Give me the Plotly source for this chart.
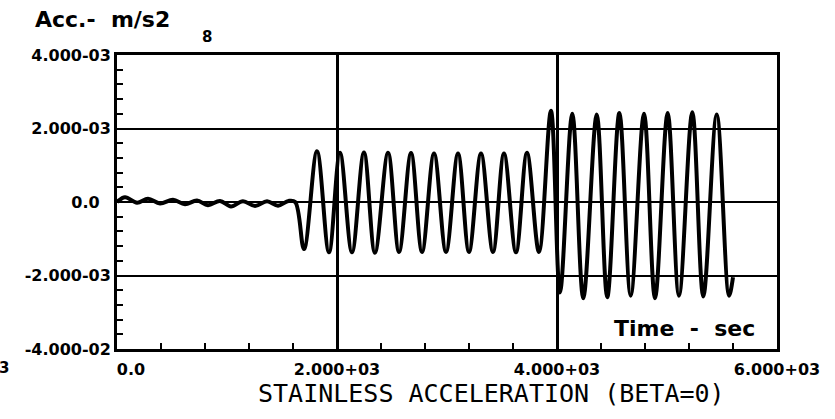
import plotly.graph_objects as go

# ---- data ----
time_s = [
    0, 73, 182, 282, 391, 509, 618, 727, 827, 936, 1036, 1145, 1255, 1364, 1464, 1560, 1620,
    1700, 1818, 1927, 2027, 2136, 2245, 2345, 2464, 2564, 2673, 2773, 2882, 2991, 3100,
    3200, 3309, 3418, 3518, 3627, 3727, 3836,
    3945, 4027, 4139, 4239, 4361, 4457, 4567, 4670, 4791, 4891, 5006, 5109, 5230, 5330,
    5452, 5564, 5600,
]
accel = [
    0.0, 0.0013, -0.0002, 0.0009, -0.0004, 0.0006, -0.0006, 0.0004, -0.0009, 0.0003, -0.0012,
    0.0002, -0.0011, 0.0002, -0.0010, 0.0003, 0.0,
    -0.0128, 0.0138, -0.0137, 0.0134, -0.0137, 0.0135, -0.0138, 0.0134, -0.0136, 0.0133,
    -0.0136, 0.0132, -0.0136, 0.0132, -0.0136, 0.0132, -0.0136, 0.0132, -0.0137, 0.0134,
    -0.0136,
    0.0248, -0.0246, 0.0240, -0.0262, 0.0238, -0.0259, 0.0242, -0.0255, 0.0240, -0.0262,
    0.0242, -0.0255, 0.0244, -0.0257, 0.0238, -0.0255, -0.0205,
]

x_tickvals = [0, 2000, 4000, 6000]
x_ticktext = ["\u00a0\u00a0\u00a0\u00a0\u00a00.0", "2.000+03", "4.000+03", "6.000+03"]
y_tickvals = [-0.04, -0.02, 0.0, 0.02, 0.04]
y_ticktext = ["-4.000-02", "-2.000-03", "0.0\u00a0\u00a0", "2.000-03", "4.000-03"]

title_text = "STAINLESS ACCELERATION (BETA=0)"
y_label = "Acc.-\u00a0 m/s2"
x_label = "Time\u00a0 -\u00a0 sec"

# ---- figure ----
W, H = 835, 419
L, R, T, B = 117, 58, 55, 70
pw, ph = W - L - R, H - T - B


def px(xp):
    return (xp - L) / pw


def py(yp):
    return (H - B - yp) / ph


fig = go.Figure()
fig.add_trace(go.Scatter(
    x=time_s, y=accel, mode="lines",
    line=dict(color="black", width=4, shape="spline", smoothing=1.0),
    hoverinfo="skip", showlegend=False,
))

tick_font = dict(family="DejaVu Sans", size=16, color="black", weight="bold")

fig.update_xaxes(
    range=[0, 6000], tickmode="array", tickvals=x_tickvals, ticktext=x_ticktext,
    showline=True, linecolor="black", linewidth=3, mirror=True,
    showgrid=True, gridcolor="black", gridwidth=3, zeroline=False,
    ticks="inside", ticklen=6, tickwidth=2, tickcolor="black",
    minor=dict(tickmode="linear", tick0=0, dtick=400, ticks="inside", ticklen=6,
               tickwidth=2, tickcolor="black", showgrid=False),
    tickfont=tick_font, ticklabelstandoff=4,
)
fig.update_yaxes(
    range=[-0.04, 0.04], tickmode="array", tickvals=y_tickvals, ticktext=y_ticktext,
    showline=True, linecolor="black", linewidth=3, mirror=True,
    showgrid=True, gridcolor="black", gridwidth=1.5, zeroline=False,
    ticks="inside", ticklen=6, tickwidth=2, tickcolor="black",
    minor=dict(tickmode="linear", tick0=0, dtick=0.004, ticks="inside", ticklen=6,
               tickwidth=2, tickcolor="black", showgrid=False),
    tickfont=tick_font, ticklabelstandoff=0,
)

annotations = [
    dict(text=y_label, x=px(33), y=py(20), xanchor="left", yanchor="middle",
         font=dict(family="DejaVu Sans", size=22, color="black", weight="bold")),
    dict(text="8", x=px(207), y=py(37), xanchor="center", yanchor="middle",
         font=dict(family="DejaVu Sans", size=15, color="black", weight="bold")),
    dict(text=x_label, x=px(612), y=py(328), xanchor="left", yanchor="middle",
         font=dict(family="DejaVu Sans", size=22, color="black", weight="bold")),
    dict(text=title_text, x=px(491), y=py(393), xanchor="center", yanchor="middle",
         font=dict(family="DejaVu Sans Mono", size=25, color="black")),
    dict(text="3", x=px(4), y=py(368), xanchor="center", yanchor="middle",
         font=dict(family="DejaVu Sans", size=15, color="black", weight="bold")),
]
for a in annotations:
    a.update(xref="paper", yref="paper", showarrow=False)

fig.update_layout(
    width=W, height=H,
    margin=dict(l=L, r=R, t=T, b=B, pad=0),
    paper_bgcolor="white", plot_bgcolor="white",
    annotations=annotations,
    showlegend=False,
)

fig.write_html(
    "out.html",
    config={"displayModeBar": False},
    post_script="document.body.style.margin='0';document.body.style.padding='0';",
)
